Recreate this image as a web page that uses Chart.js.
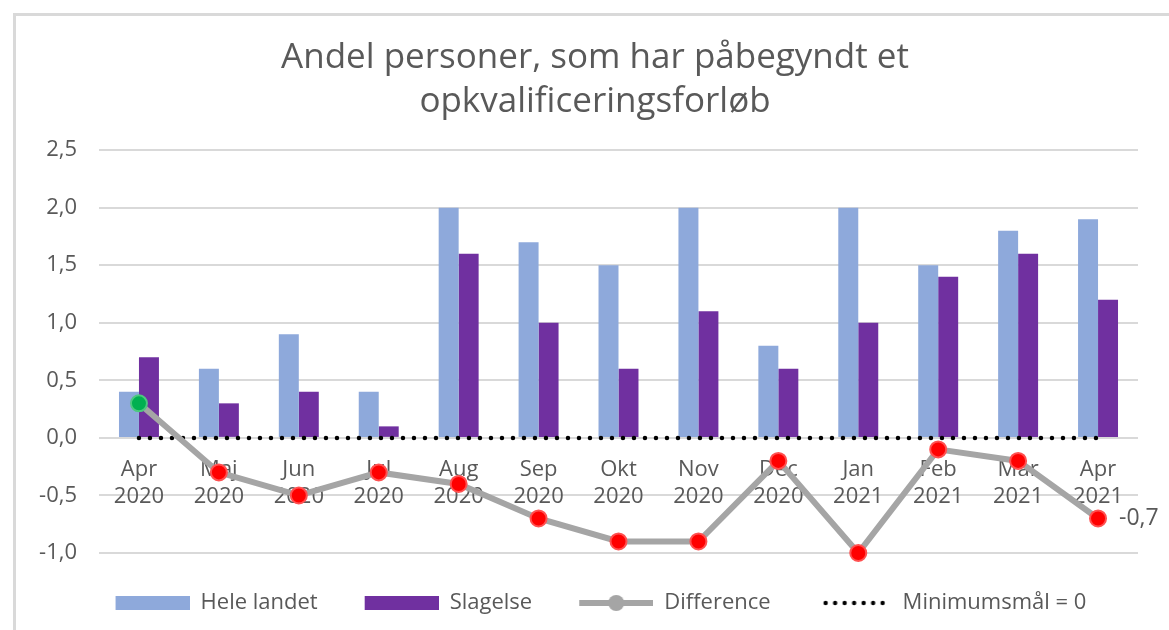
<!DOCTYPE html>
<html>
<head>
<meta charset="utf-8">
<script src="https://cdn.jsdelivr.net/npm/chart.js@4"></script>
<style>
    html, body { margin: 0; padding: 0; background: #fff; }
    #wrap { position: relative; width: 1169px; height: 630px; overflow: hidden; }
    #frame { position: absolute; left: 13px; top: 13px; width: 1200px; height: 700px;
             border-left: 3px solid #D9D9D9; border-top: 3px solid #D9D9D9; box-sizing: border-box; }
    canvas { position: absolute; left: 0; top: 0; }
</style>
</head>
<body>
<div id="wrap">
    <div id="frame"></div>
    <canvas id="chart" width="1169" height="630"></canvas>
</div>
<script>
const months = [['Apr', '2020'], ['Maj', '2020'], ['Jun', '2020'], ['Jul', '2020'], ['Aug', '2020'], ['Sep', '2020'],
    ['Okt', '2020'], ['Nov', '2020'], ['Dec', '2020'], ['Jan', '2021'], ['Feb', '2021'], ['Mar', '2021'], ['Apr', '2021']];
const heleLandet = [0.4, 0.6, 0.9, 0.4, 2.0, 1.7, 1.5, 2.0, 0.8, 2.0, 1.5, 1.8, 1.9];
const slagelse = [0.7, 0.3, 0.4, 0.1, 1.6, 1.0, 0.6, 1.1, 0.6, 1.0, 1.4, 1.6, 1.2];
const difference = [0.3, -0.3, -0.5, -0.3, -0.4, -0.7, -0.9, -0.9, -0.2, -1.0, -0.1, -0.2, -0.7];
const minimumsmaal = [0, 0, 0, 0, 0, 0, 0, 0, 0, 0, 0, 0, 0];
const yTicks = [-1.0, -0.5, 0.0, 0.5, 1.0, 1.5, 2.0, 2.5];

const FONT = '"Open Sans", sans-serif';
const TEXT = '#595959';

// small canvases used as legend markers (8px blank on the left to widen the gaps)
function legendMarker(draw) {
    const c = document.createElement('canvas');
    c.width = 82; c.height = 18;
    const g = c.getContext('2d');
    g.translate(8, 0);
    draw(g);
    return c;
}
const markerBlue = legendMarker(ctx => { ctx.fillStyle = '#8EA9DB'; ctx.fillRect(0, 2, 74, 14); });
const markerPurple = legendMarker(ctx => { ctx.fillStyle = '#7030A0'; ctx.fillRect(0, 2, 74, 14); });
const markerDiff = legendMarker(ctx => {
    ctx.strokeStyle = '#A5A5A5'; ctx.lineWidth = 6;
    ctx.beginPath(); ctx.moveTo(0, 9); ctx.lineTo(74, 9); ctx.stroke();
    ctx.fillStyle = '#A5A5A5';
    ctx.beginPath(); ctx.arc(37, 9, 8, 0, Math.PI * 2); ctx.fill();
});
const markerMin = legendMarker(ctx => {
    ctx.fillStyle = '#000';
    for (let i = 0; i < 7; i++) {
        ctx.beginPath(); ctx.arc(8 + i * 9.5, 9, 2.2, 0, Math.PI * 2); ctx.fill();
    }
});
const markers = [markerBlue, markerPurple, markerDiff, markerMin];

const fmt = v => v.toFixed(1).replace('.', ',');

// data label on the last Difference point
const lastLabel = {
    id: 'lastLabel',
    afterDatasetsDraw(chart) {
        const meta = chart.getDatasetMeta(2);
        const last = meta.data[meta.data.length - 1];
        const ctx = chart.ctx;
        ctx.save();
        ctx.font = '23px ' + FONT;
        ctx.fillStyle = TEXT;
        ctx.textAlign = 'left';
        ctx.textBaseline = 'middle';
        ctx.fillText(fmt(difference[difference.length - 1]), last.x + 21, last.y);
        ctx.restore();
    }
};

// move title and legend a bit to the right like in the original
const blockShift = {
    id: 'blockShift',
    afterLayout(chart) {
        chart.legend.left += 20;
        chart.legend.right += 20;
        chart.titleBlock.left += 18;
        chart.titleBlock.right += 18;
    }
};

const ctx = document.getElementById('chart').getContext('2d');
new Chart(ctx, {
    type: 'bar',
    data: {
        labels: months,
        datasets: [{
            label: 'Hele landet',
            data: heleLandet,
            backgroundColor: '#8EA9DB',
            categoryPercentage: 0.5,
            barPercentage: 1.0,
            order: 3
        }, {
            label: 'Slagelse',
            data: slagelse,
            backgroundColor: '#7030A0',
            categoryPercentage: 0.5,
            barPercentage: 1.0,
            order: 4
        }, {
            type: 'line',
            label: 'Difference',
            data: difference,
            borderColor: '#A5A5A5',
            borderWidth: 6,
            pointRadius: 8,
            pointBorderWidth: 2,
            pointBackgroundColor: difference.map(v => v > 0 ? '#00B050' : '#FF0000'),
            pointBorderColor: difference.map(v => v > 0 ? '#4CC97F' : '#FF5050'),
            tension: 0,
            clip: false,
            order: 1
        }, {
            type: 'line',
            label: 'Minimumsmål = 0',
            data: minimumsmaal,
            borderColor: '#000000',
            borderWidth: 4.5,
            borderDash: [0, 11],
            borderCapStyle: 'round',
            pointRadius: 0,
            order: 2
        }]
    },
    options: {
        responsive: false,
        animation: false,
        layout: { padding: { left: 16, right: 31, top: 19, bottom: 6 } },
        plugins: {
            tooltip: { enabled: false },
            title: {
                display: true,
                text: ['Andel personer, som har påbegyndt et', 'opkvalificeringsforløb'],
                color: TEXT,
                font: { family: FONT, size: 35, weight: 'normal', lineHeight: 1.23 },
                padding: { top: 18, bottom: 27 }
            },
            legend: {
                position: 'bottom',
                labels: {
                    color: TEXT,
                    font: { family: FONT, size: 22 },
                    usePointStyle: true,
                    pointStyleWidth: 82,
                    padding: 39,
                    generateLabels(chart) {
                        return chart.data.datasets.map((ds, i) => ({
                            text: ds.label,
                            fontColor: TEXT,
                            pointStyle: markers[i],
                            datasetIndex: i,
                            lineWidth: 0,
                            hidden: false
                        }));
                    }
                }
            }
        },
        scales: {
            x: {
                position: { y: 0 },
                grid: { display: false },
                border: { display: false },
                ticks: {
                    color: TEXT,
                    font: { family: FONT, size: 22, lineHeight: 1.25 },
                    padding: 10,
                    maxRotation: 0
                }
            },
            y: {
                min: -1.0,
                max: 2.5,
                afterFit(scale) { scale.width = 83; },
                afterBuildTicks(scale) { scale.ticks = yTicks.map(v => ({ value: v })); },
                grid: { color: '#D9D9D9', lineWidth: 2, drawTicks: false },
                border: { display: false },
                ticks: {
                    color: TEXT,
                    font: { family: FONT, size: 22 },
                    padding: 22,
                    callback: v => fmt(v)
                }
            }
        }
    },
    plugins: [lastLabel, blockShift]
});
</script>
</body>
</html>
